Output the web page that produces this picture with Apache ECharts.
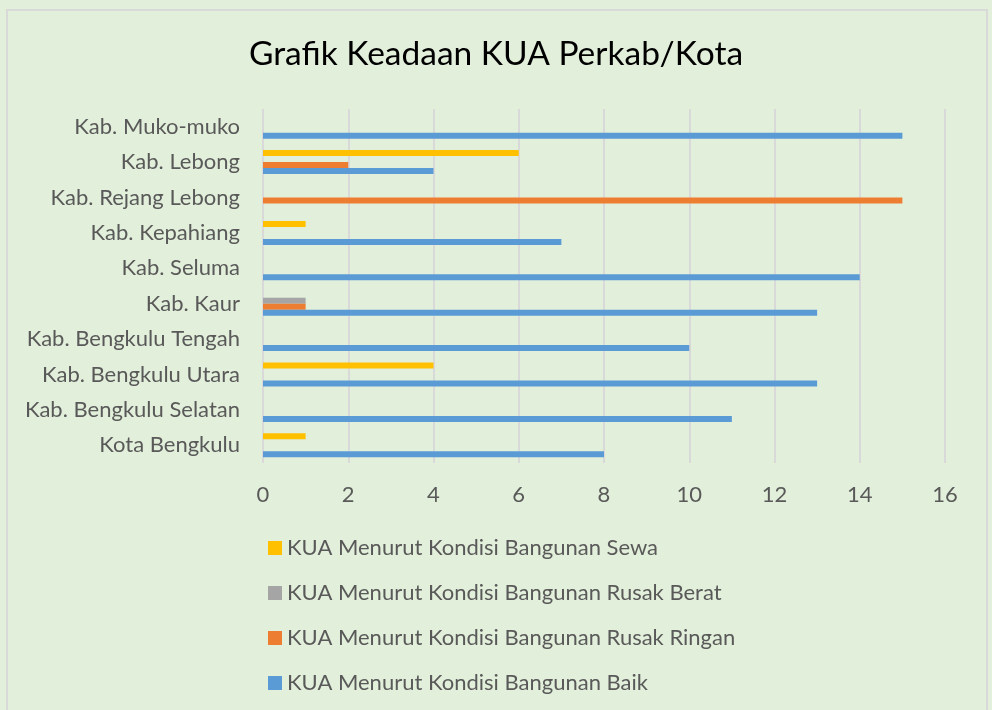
<!DOCTYPE html>
<html>
<head>
<meta charset="utf-8">
<script src="https://cdn.jsdelivr.net/npm/echarts@6/dist/echarts.min.js"></script>
<style>
  html, body { margin: 0; padding: 0; background: #e2efda; }
  #chart { width: 992px; height: 710px; }
</style>
</head>
<body>
<div id="chart"></div>
<script>
// kategori (dari bawah ke atas, seperti di Excel)
var categories = ['Kota Bengkulu', 'Kab. Bengkulu Selatan', 'Kab. Bengkulu Utara', 'Kab. Bengkulu Tengah',
  'Kab. Kaur', 'Kab. Seluma', 'Kab. Kepahiang', 'Kab. Rejang Lebong', 'Kab. Lebong', 'Kab. Muko-muko'];

var sewa = [1, 0, 4, 0, 0, 0, 1, 0, 6, 0];
var rusakBerat = [0, 0, 0, 0, 1, 0, 0, 0, 0, 0];
var rusakRingan = [0, 0, 0, 0, 1, 0, 0, 15, 2, 0];
var baik = [8, 11, 13, 10, 13, 14, 7, 0, 4, 15];

var seriesNames = [
  'KUA Menurut Kondisi Bangunan Sewa',
  'KUA Menurut Kondisi Bangunan Rusak Berat',
  'KUA Menurut Kondisi Bangunan Rusak Ringan',
  'KUA Menurut Kondisi Bangunan Baik'
];
var seriesData = [sewa, rusakBerat, rusakRingan, baik];
var colors = ['#ffc000', '#a5a5a5', '#ed7d31', '#5b9bd5'];

var fontName = 'Lato, "Open Sans", sans-serif';

var myChart = echarts.init(document.getElementById('chart'));

var series = seriesNames.map(function (name, i) {
  return {
    name: name,
    type: 'bar',
    barWidth: 6,
    barGap: '0%',
    itemStyle: { color: colors[i] },
    data: seriesData[i]
  };
});

var option = {
  backgroundColor: '#e2efda',
  color: colors,
  animation: false,
  title: {
    text: 'Grafik Keadaan KUA Perkab/Kota',
    left: 'center',
    top: 32,
    textStyle: {
      fontFamily: fontName,
      fontSize: 33.5,
      fontWeight: 'normal',
      color: '#000'
    }
  },
  // bingkai chart
  graphic: [
    {
      type: 'rect',
      shape: { x: 7, y: 10, width: 980, height: 720 },
      style: { fill: 'none', stroke: '#d9d9d9', lineWidth: 2 },
      silent: true
    }
  ],
  legend: {
    orient: 'vertical',
    left: 263,
    top: 532,
    itemWidth: 14,
    itemHeight: 14,
    itemGap: 23,
    itemStyle: { borderWidth: 0 },
    icon: 'rect',
    textStyle: {
      fontFamily: fontName,
      fontSize: 22,
      color: '#595959'
    },
    data: seriesNames
  },
  grid: {
    left: 263,
    right: 47,
    top: 109,
    bottom: 247
  },
  xAxis: {
    type: 'value',
    min: 0,
    max: 16,
    interval: 2,
    axisLine: { show: false },
    axisTick: { show: false },
    axisLabel: {
      margin: 21,
      fontFamily: fontName,
      fontSize: 22,
      color: '#595959'
    },
    splitLine: {
      lineStyle: { color: '#d9d9d9', width: 2 }
    }
  },
  yAxis: {
    type: 'category',
    data: categories,
    axisLine: { show: false },
    axisTick: { show: false },
    axisLabel: {
      margin: 23,
      fontFamily: fontName,
      fontSize: 22,
      color: '#595959'
    },
    splitLine: { show: false }
  },
  series: series
};

myChart.setOption(option);
window.addEventListener('resize', function () {
  myChart.resize();
});
</script>
</body>
</html>
